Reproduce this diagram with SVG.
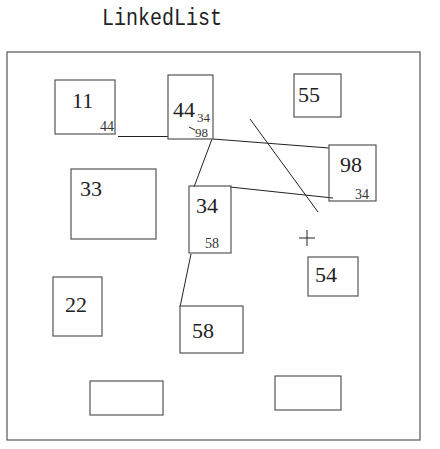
<svg xmlns="http://www.w3.org/2000/svg" width="440" height="449" viewBox="0 0 440 449">
<style>
.box{fill:none;stroke:#555;stroke-width:1.2}
.big{font-family:"Liberation Serif",serif;font-size:22px;fill:#222}
.sm{font-family:"Liberation Serif",serif;font-size:14px;fill:#333}
.xs{font-family:"Liberation Serif",serif;font-size:13px;fill:#333}
.ln{stroke:#222;stroke-width:1;fill:none}
</style>
<rect width="440" height="449" fill="#fff"/>
<text x="102" y="25" font-family="Liberation Mono, monospace" font-size="20" fill="#222" transform="translate(0 -5) scale(1 1.2)">LinkedList</text>
<rect x="7" y="52" width="413" height="388" class="box"/>
<g id="connectors">
<line x1="118" y1="136.5" x2="168" y2="136.5" class="ln"/>
<line x1="213" y1="139" x2="329" y2="148" class="ln"/>
<line x1="212" y1="139" x2="194" y2="187" class="ln"/>
<line x1="230" y1="187" x2="333" y2="198" class="ln"/>
<line x1="191" y1="254" x2="180" y2="307" class="ln"/>
<line x1="250" y1="119" x2="318" y2="212" class="ln"/>
</g>
<g id="n11"><rect x="55" y="80" width="60" height="54" class="box"/><text x="72" y="108" class="big">11</text><text x="100" y="131" class="sm">44</text></g>
<g id="n44"><rect x="168" y="75" width="45" height="64" class="box"/><text x="173" y="117" class="big">44</text><text x="197" y="122" class="xs">34</text><text x="195" y="137" class="xs">98</text><line x1="189" y1="127" x2="195" y2="130" class="ln"/></g>
<g id="n55"><rect x="294" y="74" width="47" height="43" class="box"/><text x="298" y="102" class="big">55</text></g>
<g id="n98"><rect x="329" y="145" width="47" height="56" class="box"/><text x="340" y="172" class="big">98</text><text x="355" y="199" class="sm">34</text></g>
<g id="n33"><rect x="71" y="169" width="85" height="70" class="box"/><text x="80" y="196" class="big">33</text></g>
<g id="n34"><rect x="189" y="186" width="42" height="67" class="box"/><text x="196" y="213" class="big">34</text><text x="205" y="248" class="sm">58</text></g>
<g id="n22"><rect x="53" y="277" width="49" height="59" class="box"/><text x="65" y="312" class="big">22</text></g>
<g id="n58"><rect x="180" y="306" width="63" height="47" class="box"/><text x="192" y="338" class="big">58</text></g>
<g id="n54"><rect x="308" y="257" width="50" height="39" class="box"/><text x="315" y="282" class="big">54</text></g>
<g id="cursor"><line x1="299" y1="238" x2="315" y2="238" class="ln"/><line x1="307" y1="230" x2="307" y2="246" class="ln"/></g>
<g id="e1"><rect x="90" y="381" width="73" height="34" class="box"/></g>
<g id="e2"><rect x="275" y="376" width="66" height="34" class="box"/></g>
</svg>
